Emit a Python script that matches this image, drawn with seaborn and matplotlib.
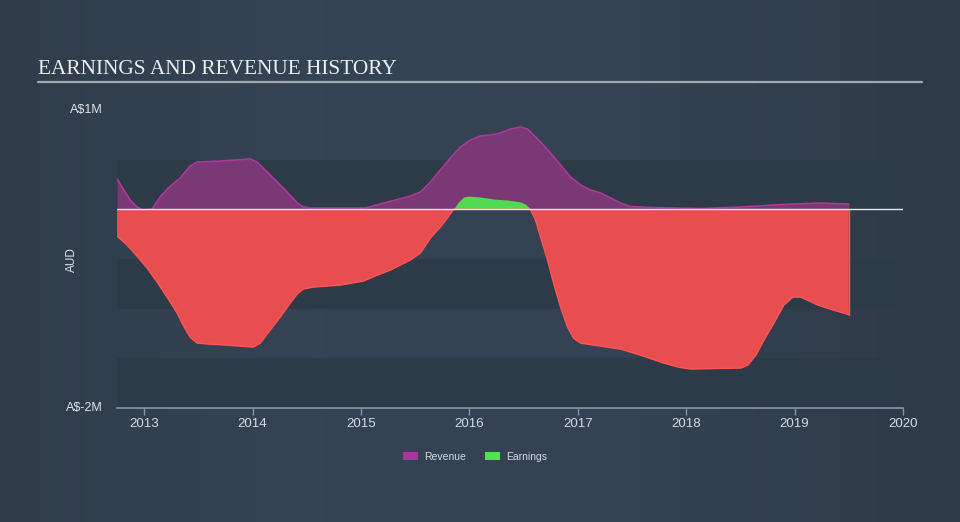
import numpy as np
import pandas as pd
import matplotlib
matplotlib.use("Agg")
import matplotlib.pyplot as plt
import seaborn as sns
from matplotlib.patches import Patch
from matplotlib.colors import LinearSegmentedColormap

# ---- data (decimal year, A$ millions) ----
rev_year = [2012.751, 2012.825, 2012.871, 2012.935, 2012.991, 2013.074, 2013.148, 2013.222,
            2013.332, 2013.425, 2013.489, 2013.702, 2013.979, 2014.043, 2014.117, 2014.210,
            2014.302, 2014.413, 2014.468, 2014.533, 2015.041, 2015.179, 2015.318, 2015.456,
            2015.548, 2015.641, 2015.733, 2015.826, 2015.918, 2016.010, 2016.102, 2016.195,
            2016.287, 2016.380, 2016.472, 2016.537, 2016.592, 2016.657, 2016.749, 2016.841,
            2016.934, 2017.026, 2017.118, 2017.211, 2017.303, 2017.395, 2017.488, 2017.672,
            2018.134, 2018.503, 2018.873, 2019.242, 2019.501]
rev_val = [0.305, 0.174, 0.094, 0.023, -0.007, 0.003, 0.124, 0.214,
           0.315, 0.436, 0.476, 0.486, 0.507, 0.476, 0.396, 0.295,
           0.194, 0.063, 0.023, 0.013, 0.013, 0.053, 0.094, 0.134,
           0.174, 0.275, 0.396, 0.517, 0.627, 0.698, 0.738, 0.748,
           0.768, 0.808, 0.829, 0.808, 0.748, 0.678, 0.567, 0.446,
           0.325, 0.245, 0.194, 0.164, 0.114, 0.063, 0.028, 0.018,
           0.008, 0.023, 0.048, 0.063, 0.053]

earn_year = [2012.751, 2012.843, 2012.935, 2013.028, 2013.120, 2013.212, 2013.305, 2013.360,
             2013.425, 2013.489, 2013.609, 2013.886, 2014.006, 2014.071, 2014.163, 2014.256,
             2014.348, 2014.413, 2014.468, 2014.560, 2014.810, 2015.022, 2015.132, 2015.271,
             2015.456, 2015.548, 2015.641, 2015.733, 2015.798, 2015.853, 2015.900, 2015.946,
             2015.992, 2016.102, 2016.223, 2016.352, 2016.472, 2016.518, 2016.546, 2016.564,
             2016.610, 2016.657, 2016.721, 2016.777, 2016.841, 2016.906, 2016.961, 2017.026,
             2017.146, 2017.275, 2017.395, 2017.580, 2017.765, 2017.922, 2018.042, 2018.504,
             2018.569, 2018.643, 2018.717, 2018.809, 2018.901, 2018.984, 2019.058, 2019.215,
             2019.357, 2019.500]
earn_val = [-0.269, -0.360, -0.471, -0.592, -0.733, -0.884, -1.045, -1.166,
            -1.287, -1.347, -1.357, -1.377, -1.387, -1.347, -1.216, -1.085,
            -0.944, -0.853, -0.803, -0.783, -0.763, -0.723, -0.672, -0.612,
            -0.511, -0.440, -0.289, -0.178, -0.088, 0.0, 0.074, 0.124,
            0.134, 0.124, 0.104, 0.094, 0.074, 0.053, 0.023, 0.0,
            -0.108, -0.279, -0.511, -0.743, -0.984, -1.186, -1.297, -1.347,
            -1.367, -1.387, -1.407, -1.468, -1.538, -1.588, -1.608, -1.598,
            -1.568, -1.468, -1.317, -1.146, -0.964, -0.884, -0.884, -0.964,
            -1.014, -1.060]

year_ticks = [2013, 2014, 2015, 2016, 2017, 2018, 2019, 2020]
y_labels = {1: "A$1M", -2: "A$-2M"}
title = "EARNINGS AND REVENUE HISTORY"
legend_names = ["Revenue", "Earnings"]

rev = pd.DataFrame({"year": rev_year, "value": rev_val})
earn = pd.DataFrame({"year": earn_year, "value": earn_val})

# ---- style ----
sns.set_theme(style="dark")
plt.rcParams['font.family'] = ['Liberation Sans', 'DejaVu Sans']

W, H = 960, 522
fig = plt.figure(figsize=(W / 100, H / 100), dpi=100)

# background gradient
bg = fig.add_axes([0, 0, 1, 1], zorder=-10)
cmap = LinearSegmentedColormap.from_list("bg", ["#303c4a", "#354455", "#344253", "#2f3a47"])
grad = np.linspace(0, 1, 256).reshape(1, -1)
bg.imshow(grad, aspect="auto", cmap=cmap, extent=[0, 1, 0, 1])
bg.set_axis_off()

ax = fig.add_axes([117 / W, 1 - 408 / H, 786 / W, 298 / H])
ax.set_facecolor("none")
ax.set_xlim(2012.75, 2020.0)
ax.set_ylim(-2, 1)

for lo, hi in [(0, 0.5), (-1, -0.5), (-2, -1.5)]:
    ax.axhspan(lo, hi, color="#2d3a48", lw=0, zorder=0)

# revenue
ax.fill_between(rev["year"], 0, rev["value"], color="#7a3874", lw=0, zorder=2)
sns.lineplot(data=rev, x="year", y="value", ax=ax, color="#b0379c", lw=1.2, zorder=3,
             estimator=None, sort=False)

# earnings
ey = np.array(earn_year)
ev = np.array(earn_val)
ax.fill_between(ey, 0, ev, where=ev <= 0, interpolate=True, color="#e84e50", lw=0, zorder=4)
ax.fill_between(ey, 0, ev, where=ev >= 0, interpolate=True, color="#4fdc50", lw=0, zorder=4)
neg = earn.copy()
neg.loc[neg["value"] > 0, "value"] = np.nan
sns.lineplot(data=neg, x="year", y="value", ax=ax, color="#ff5555", lw=1.0, zorder=5,
             estimator=None, sort=False)
ax.plot([earn_year[-1], earn_year[-1]], [earn_val[-1], 0], color="#ff5555", lw=1.0, zorder=5)

ax.axhline(0, color="#e6e9ee", lw=1.0, zorder=6)

# axes styling
for s in ["top", "right", "left"]:
    ax.spines[s].set_visible(False)
ax.spines["bottom"].set_color("#8596ab")
ax.spines["bottom"].set_linewidth(1.2)
ax.set_xticks(year_ticks)
ax.set_xticklabels([str(y) for y in year_ticks])
ax.tick_params(axis="x", colors="#8596ab", length=5, width=1, labelcolor="#d5dae0",
               labelsize=9.5, pad=2, bottom=True)
ax.set_yticks([])
ax.set_xlabel("")
ax.set_ylabel("")
ax.grid(False)

# y labels
fig.text(103 / W, 1 - 110 / H, y_labels[1], ha="right", va="center", color="#e2e6ea", fontsize=9)
fig.text(103 / W, 1 - 408 / H, y_labels[-2], ha="right", va="center", color="#e2e6ea", fontsize=9)
fig.text(72 / W, 1 - 260 / H, "AUD", ha="center", va="center", rotation=90, color="#e2e6ea", fontsize=8.5)

# title
fig.text(38 / W, 1 - 69.5 / H, title, ha="left", va="center", color="#eeeeee",
         fontsize=15.3, family=["Liberation Serif", "DejaVu Serif"])
fig.add_artist(plt.Line2D([38 / W, 922 / W], [1 - 82 / H, 1 - 82 / H], color="#a3a9b1", lw=1.6))

# legend
handles = [Patch(facecolor="#a9389a", edgecolor="none", label=legend_names[0]),
           Patch(facecolor="#50e050", edgecolor="none", label=legend_names[1])]
leg = fig.legend(handles=handles, loc="center", bbox_to_anchor=(475 / W, 1 - 457 / H), ncol=2,
                 frameon=False, fontsize=7.5, handlelength=1.45, handleheight=0.8,
                 columnspacing=1.8, handletextpad=0.55)
for t in leg.get_texts():
    t.set_color("#d5dae0")

fig.savefig("out.png", dpi=100)
